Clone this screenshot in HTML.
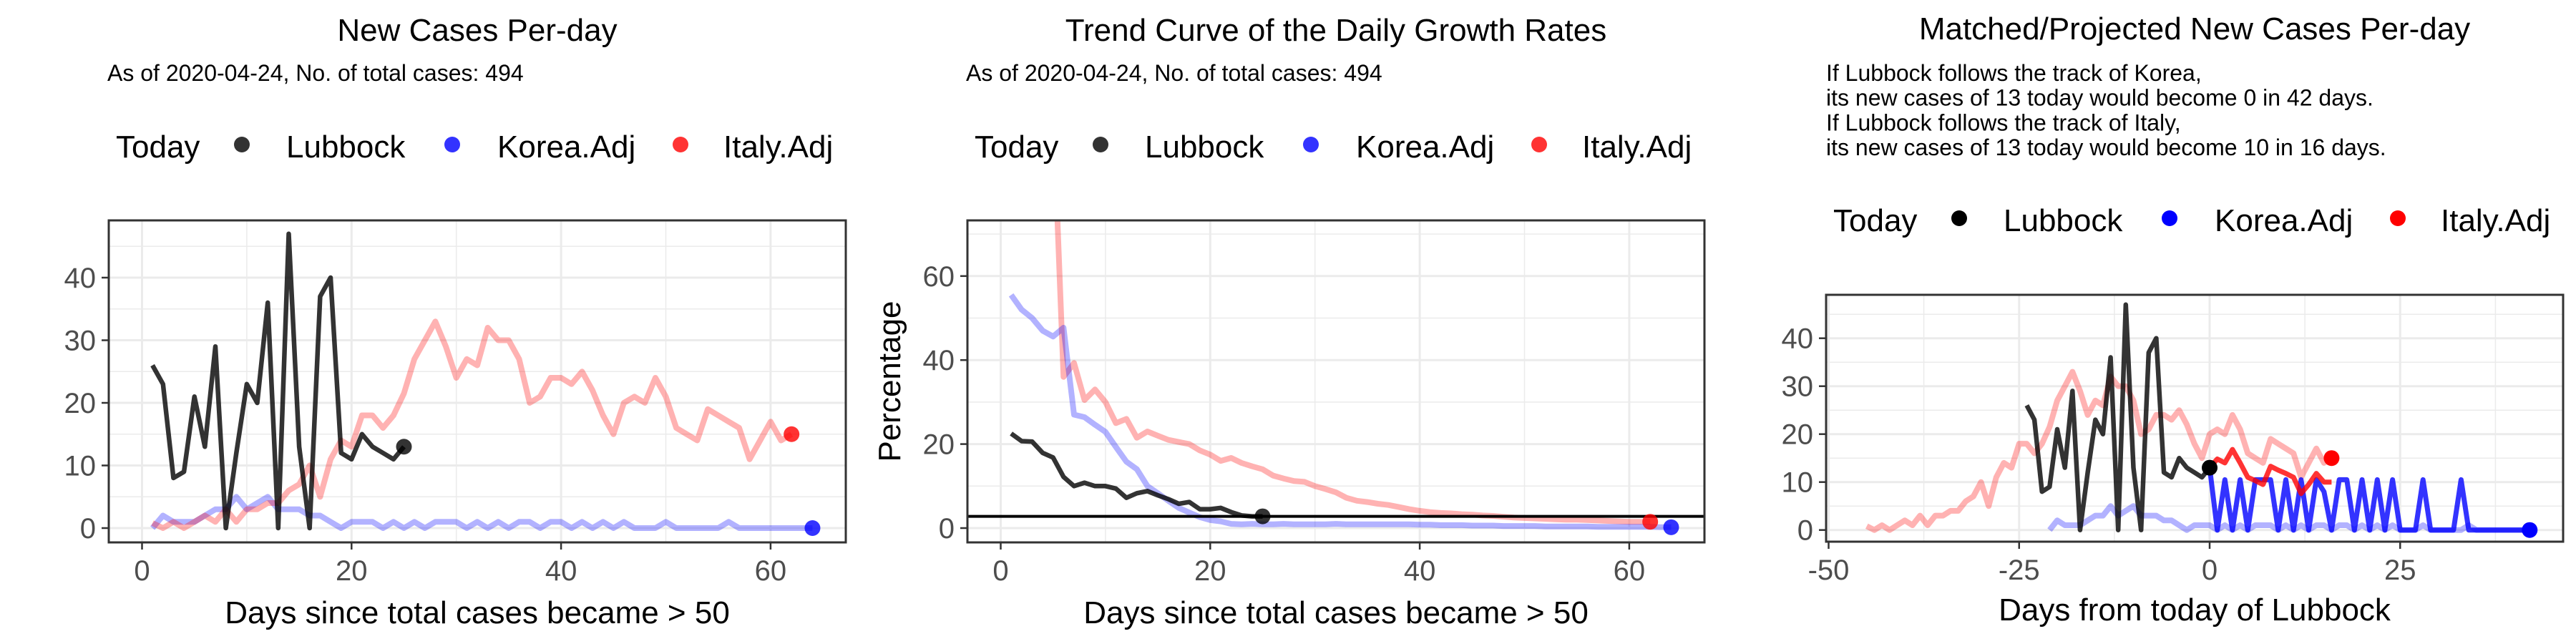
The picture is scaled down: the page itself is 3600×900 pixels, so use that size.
<!DOCTYPE html>
<html><head><meta charset="utf-8">
<style>
html,body{margin:0;padding:0;background:#fff;}
svg{display:block;font-family:"Liberation Sans",Arial,sans-serif;}
</style></head>
<body>
<svg id="chart" width="3600" height="900" viewBox="0 0 3600 900" xmlns="http://www.w3.org/2000/svg">
<defs>
<clipPath id="clip1"><rect x="152" y="308" width="1030" height="450"/></clipPath>
<clipPath id="clip2"><rect x="1352" y="308" width="1030" height="450"/></clipPath>
<clipPath id="clip3"><rect x="2552" y="412" width="1030" height="345"/></clipPath>
</defs>
<g id="root"></g>
</svg>
<script>
// ---- Panel 1: New cases per day ----
const lubbockDays = [1,2,3,4,5,6,7,8,9,10,11,12,13,14,15,16,17,18,19,20,21,22,23,24,25];
const lubbockNew = [26,23,8,9,21,13,29,0,12,23,20,36,0,47,13,0,37,40,12,11,15,13,12,11,13];
const koreaNew = [0,2,1,1,1,2,3,3,5,3,4,5,3,3,3,2,2,1,0,1,1,1,0,1,0,1,0,1,1,1,0,1,0,1,0,1,1,0,1,1,0,1,0,1,0,1,0,0,0,1,0,0,0,0,0,1,0,0,0,0,0,0,0,0];
const italyNew = [0.8,0,1,0,1,2,1,3,1,3,3,4,4,6,7,10,5,11,14,13,18,18,16,18,21.5,27,30,33,29,24,27,26,32,30,30,27,20,21,24,24,23,25,22,18,15,20,21,20,24,21,16,15,14,19,18,17,16,11,14,17,14,15];
// ---- Panel 2: growth rates (%) ----
const lubbockGrowth = [22.5,20.7,20.6,17.9,16.8,12.2,10,10.8,10,10,9.4,7.2,8.3,8.8,7.8,6.9,5.8,6.2,4.5,4.5,4.8,3.8,3.0,2.8,2.8];
const koreaGrowth = [55.5,52,50,47,45.6,47.7,27,26.4,24.6,22.9,19.3,15.8,14,10,8.3,6.5,4.8,3.7,2.6,1.9,1.6,1.0,0.9,1.0,0.9,0.9,1.0,0.9,0.9,0.9,0.9,1.0,0.9,0.9,0.9,0.9,0.9,0.9,0.9,0.8,0.8,0.7,0.7,0.7,0.6,0.6,0.6,0.5,0.5,0.5,0.5,0.4,0.4,0.4,0.4,0.4,0.3,0.3,0.3,0.3,0.3,0.3,0.2,0.2];
const italyGrowth = [100,100,100,100,100,36,39.3,30.5,33,30,25,26,21.5,23,22,21,20.5,20,18.5,17.5,16,16.7,15.5,14.7,14,12.5,11.8,11.2,11,10,9.3,8.5,7.2,6.5,6.2,5.8,5.5,5,4.5,4.1,3.8,3.6,3.5,3.3,3.2,3.0,2.9,2.7,2.5,2.4,2.3,2.2,2.1,2.0,2.0,1.9,1.8,1.7,1.6,1.5,1.5,1.5];
const todayGrowth = [2.8];
// ---- Panel 3: matched / projected ----
const lubbockShift = [-25];
const koreaShift = [-22];
const italyShift = [-46];
const italyProjected = [13,14.8,14,16.8,14,11,10.3,9.5,13.3,12.5,11.8,11,7.6,9.5,11.8,10,10];
const koreaProjected = [13,0,10.5,0,10.5,0,10.5,10.5,10.5,0,10.5,0,10.5,0,10.5,8,0,10.5,10.5,0,10.5,0,10.5,0,10.5,0,0,0,10.5,0,0,0,0,10.5,0,0,0,0,0,0,0,0,0];
// ---- ticks ----
const p1YTicks = [0,10,20,30,40];
const p1YMinor = [5,15,25,35,45];
const p1XTicks = [0,20,40,60];
const p1XMinor = [10,30,50];
const p2YTicks = [0,20,40,60];
const p2YMinor = [10,30,50,70];
const p3YTicks = [0,10,20,30,40];
const p3YMinor = [5,15,25,35,45];
const p3XTicks = [-50,-25,0,25];
const p3XMinor = [-37.5,-12.5,12.5,37.5];

const NS = "http://www.w3.org/2000/svg";
const root = document.getElementById('root');
function el(tag, attrs, parent){
  const e = document.createElementNS(NS, tag);
  for (const k in attrs) e.setAttribute(k, attrs[k]);
  (parent||root).appendChild(e);
  return e;
}
function txt(x,y,s,size,opts,parent){
  const t = el('text', Object.assign({x:x,y:y,'font-size':size,fill:'#000'},opts||{}), parent);
  t.textContent = s;
  return t;
}

const panels = [
  {L:152,T:308,W:1030,H:450,x0:198.5,kx:14.64,y0:738,ky:8.75,clip:'clip1',yt:p1YTicks,ym:p1YMinor,xt:p1XTicks,xm:p1XMinor},
  {L:1352,T:308,W:1030,H:450,x0:1398.5,kx:14.64,y0:738,ky:5.87,clip:'clip2',yt:p2YTicks,ym:p2YMinor,xt:p1XTicks,xm:p1XMinor},
  {L:2552,T:412,W:1030,H:345,x0:3088,kx:10.65,y0:740.7,ky:6.7,clip:'clip3',yt:p3YTicks,ym:p3YMinor,xt:p3XTicks,xm:p3XMinor}
];
function X(p,v){return p.x0 + v*p.kx;}
function Y(p,v){return p.y0 - v*p.ky;}

function drawFrame(p, idx){
  const g = el('g',{});
  
  
  el('rect',{x:p.L,y:p.T,width:p.W,height:p.H,fill:'#fff'},g);
  const grid = el('g',{'clip-path':'url(#'+p.clip+')'},g);
  
  
  p.ym.forEach(v=>el('line',{x1:p.L,x2:p.L+p.W,y1:Y(p,v),y2:Y(p,v),stroke:'#ebebeb','stroke-width':1.5},grid));
  p.xm.forEach(v=>el('line',{y1:p.T,y2:p.T+p.H,x1:X(p,v),x2:X(p,v),stroke:'#ebebeb','stroke-width':1.5},grid));
  p.yt.forEach(v=>el('line',{x1:p.L,x2:p.L+p.W,y1:Y(p,v),y2:Y(p,v),stroke:'#ebebeb','stroke-width':3},grid));
  p.xt.forEach(v=>el('line',{y1:p.T,y2:p.T+p.H,x1:X(p,v),x2:X(p,v),stroke:'#ebebeb','stroke-width':3},grid));
  const ya = el('g',{},g);
  
  
  p.yt.forEach(v=>{
    el('line',{x1:p.L-10,x2:p.L,y1:Y(p,v),y2:Y(p,v),stroke:'#333','stroke-width':2.5},ya);
    const t = txt(p.L-18,Y(p,v)+14,String(v),40,{fill:'#4d4d4d','text-anchor':'end'},ya);
    
    
  });
  const xa = el('g',{},g);
  
  
  p.xt.forEach(v=>{
    el('line',{y1:p.T+p.H,y2:p.T+p.H+10,x1:X(p,v),x2:X(p,v),stroke:'#333','stroke-width':2.5},xa);
    const t = txt(X(p,v),p.T+p.H+53,String(v),40,{fill:'#4d4d4d','text-anchor':'middle'},xa);
    
    
  });
  return g;
}
function line(p, g, xs, ys, color, width, opacity, name){
  const pts = ys.map((v,i)=>X(p,xs[i]).toFixed(1)+','+Y(p,v).toFixed(1)).join(' ');
  const pl = el('polyline',{points:pts,fill:'none',stroke:color,'stroke-width':width,'stroke-opacity':opacity,'stroke-linejoin':'round','clip-path':'url(#'+p.clip+')'},g);
  
  
}
function dot(p,g,x,v,color,opacity,name){
  const c = el('circle',{cx:X(p,x),cy:Y(p,v),r:11,fill:color,'fill-opacity':opacity},g);
  
  
}
function border(p,g){
  el('rect',{x:p.L,y:p.T,width:p.W,height:p.H,fill:'none',stroke:'#333','stroke-width':3},g);
}
function legend(g, left, y, strong){
  const lg = el('g',{},g);
  
  
  txt(left+10,y+18,'Today',44,{},lg);
  const items = [['Lubbock', strong?'#000':'#333', 186, 248],['Korea.Adj', strong?'#00f':'#33f', 480, 543],['Italy.Adj', strong?'#f00':'#f33', 799, 859]];
  items.forEach(it=>{
    const e = el('g',{},lg);
    
    
    el('circle',{cx:left+it[2],cy:y,r:11,fill:it[1]},e);
    txt(left+it[3],y+18,it[0],44,{},e);
  });
}
const seq = n => Array.from({length:n},(_,i)=>i+1);

// Panel 1
(function(){
  const p = panels[0];
  const g = drawFrame(p,0);
  const t = txt(667,57,'New Cases Per-day',44,{'text-anchor':'middle'},g);
   
  const s = txt(150,113,'As of 2020-04-24, No. of total cases: 494',32,{},g);
   
  legend(g,p.L,202,false);
  line(p,g,seq(koreaNew.length),koreaNew,'#0000ff',8,0.3,'korea-line');
  line(p,g,seq(italyNew.length),italyNew,'#ff0000',8,0.3,'italy-line');
  line(p,g,lubbockDays,lubbockNew,'#000',6.5,0.8,'lubbock-line');
  dot(p,g,lubbockDays[lubbockDays.length-1],lubbockNew[lubbockNew.length-1],'#000',0.8,'lubbock-today-point');
  dot(p,g,koreaNew.length,koreaNew[koreaNew.length-1],'#0000ff',0.8,'korea-end-point');
  dot(p,g,italyNew.length,italyNew[italyNew.length-1],'#ff0000',0.8,'italy-end-point');
  border(p,g);
  const xt = txt(667,871,'Days since total cases became > 50',44,{'text-anchor':'middle'},g);
   
})();

// Panel 2
(function(){
  const p = panels[1];
  const g = drawFrame(p,1);
  const t = txt(1867,57,'Trend Curve of the Daily Growth Rates',44,{'text-anchor':'middle'},g);
   
  const s = txt(1350,113,'As of 2020-04-24, No. of total cases: 494',32,{},g);
   
  legend(g,p.L,202,false);
  line(p,g,seq(italyGrowth.length),italyGrowth,'#ff0000',8,0.3,'italy-growth-line');
  line(p,g,seq(koreaGrowth.length),koreaGrowth,'#0000ff',8,0.3,'korea-growth-line');
  line(p,g,lubbockDays,lubbockGrowth,'#000',6.5,0.8,'lubbock-growth-line');
  const hl = el('line',{x1:p.L,x2:p.L+p.W,y1:Y(p,todayGrowth[0]),y2:Y(p,todayGrowth[0]),stroke:'#000','stroke-width':4},g);
   
  dot(p,g,lubbockDays[lubbockDays.length-1],lubbockGrowth[lubbockGrowth.length-1],'#000',0.8,'lubbock-today-point');
  dot(p,g,italyGrowth.length,italyGrowth[italyGrowth.length-1],'#ff0000',0.8,'italy-end-point');
  dot(p,g,koreaGrowth.length,koreaGrowth[koreaGrowth.length-1],'#0000ff',0.8,'korea-end-point');
  border(p,g);
  const xt = txt(1867,871,'Days since total cases became > 50',44,{'text-anchor':'middle'},g);
   
  const yt = txt(0,0,'Percentage',44,{'text-anchor':'middle',transform:'translate(1258,533) rotate(-90)'},g);
   
})();

// Panel 3
(function(){
  const p = panels[2];
  const g = drawFrame(p,2);
  const t = txt(3067,55,'Matched/Projected New Cases Per-day',44,{'text-anchor':'middle'},g);
   
  const notes = ['If Lubbock follows the track of Korea,','its new cases of 13 today would become 0 in 42 days.','If Lubbock follows the track of Italy,','its new cases of 13 today would become 10 in 16 days.'];
  const ng = el('g',{},g);
   
  notes.forEach((n,i)=>txt(2552,113+i*34.7,n,32,{},ng));
  legend(g,p.L,305,true);
  line(p,g,seq(italyNew.length).map(d=>d+italyShift[0]),italyNew,'#ff0000',8,0.3,'italy-matched-line');
  line(p,g,seq(koreaNew.length).map(d=>d+koreaShift[0]),koreaNew,'#0000ff',8,0.3,'korea-matched-line');
  line(p,g,lubbockDays.map(d=>d+lubbockShift[0]),lubbockNew,'#000',6.5,0.8,'lubbock-line');
  line(p,g,koreaProjected.map((_,i)=>i),koreaProjected,'#0000ff',7,0.8,'korea-projection-line');
  line(p,g,italyProjected.map((_,i)=>i),italyProjected,'#ff0000',7,0.8,'italy-projection-line');
  dot(p,g,0,lubbockNew[lubbockNew.length-1],'#000',1,'lubbock-today-point');
  dot(p,g,italyNew.length+italyShift[0],italyNew[italyNew.length-1],'#ff0000',1,'italy-end-point');
  dot(p,g,koreaNew.length+koreaShift[0],koreaNew[koreaNew.length-1],'#0000ff',1,'korea-end-point');
  border(p,g);
  const xt = txt(3067,867,'Days from today of Lubbock',44,{'text-anchor':'middle'},g);
   
})();
</script>
</body></html>
